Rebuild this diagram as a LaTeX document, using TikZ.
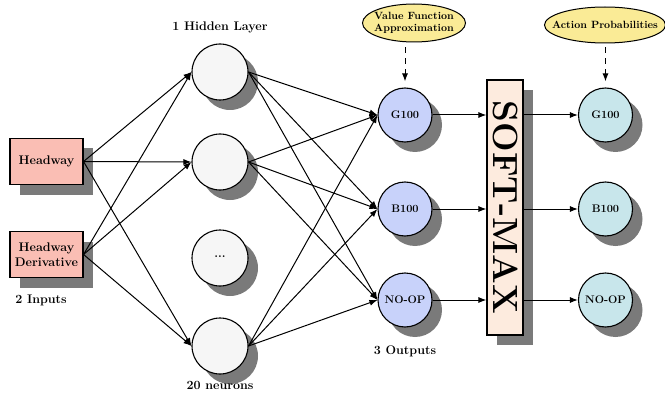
\documentclass[tikz,border=0pt]{standalone}
\usetikzlibrary{shapes.geometric,arrows.meta,shadows}
\definecolor{inpink}{RGB}{250,190,180}
\definecolor{outblue}{RGB}{200,210,250}
\definecolor{probcyan}{RGB}{200,230,235}
\definecolor{smpeach}{RGB}{253,235,222}
\definecolor{elyellow}{RGB}{250,235,150}
\definecolor{hidwhite}{RGB}{246,246,246}
\definecolor{shadgray}{RGB}{122,122,122}
\begin{document}
\begin{tikzpicture}[x=1pt,y=-1pt,
  shad/.style={drop shadow={shadow xshift=10pt,shadow yshift=-10pt,fill=shadgray,opacity=1}},
  inbox/.style={draw,line width=1.1pt,fill=inpink,minimum width=73pt,minimum height=46pt,
    align=center,inner sep=0pt,font=\fontsize{12.5}{15}\selectfont\bfseries,shad},
  hid/.style={circle,draw,line width=1.1pt,fill=hidwhite,minimum size=56pt,inner sep=0pt,shad,
    font=\fontsize{12}{14}\selectfont\bfseries},
  outn/.style={circle,draw,line width=1.1pt,fill=outblue,minimum size=54pt,inner sep=0pt,shad,
    font=\fontsize{11}{13}\selectfont\bfseries},
  probn/.style={circle,draw,line width=1.1pt,fill=probcyan,minimum size=54pt,inner sep=0pt,shad,
    font=\fontsize{11}{13}\selectfont\bfseries},
  smbox/.style={draw,line width=1.1pt,fill=smpeach,minimum width=36pt,minimum height=255pt,inner sep=0pt,shad},
  ell/.style={ellipse,draw,line width=1pt,fill=elyellow,inner sep=0pt},
  ltext/.style={font=\fontsize{10.5}{12.5}\selectfont\bfseries,align=center,inner sep=0pt},
  lbl/.style={font=\fontsize{12.5}{15}\selectfont\bfseries,inner sep=0pt},
  conn/.style={line width=1pt,-{Latex[length=8pt,width=6pt]}},
  dasharrow/.style={line width=1pt,dash pattern=on 6pt off 5pt,-{Latex[length=8pt,width=6pt]}}
]
\useasboundingbox (0,0) rectangle (665,396);

% inputs
\node[inbox] (i1) at (46.5,161.5) {Headway};
\node[inbox] (i2) at (46.5,254.5) {Headway\\Derivative};
\node[lbl] (inlbl) at (41,300) {2 Inputs};

% hidden layer
\node[hid] (h1) at (220,72) {};
\node[hid] (h2) at (220,162) {};
\node[hid] (h3) at (220,258) {\raisebox{2pt}{...}};
\node[hid] (h4) at (220,346) {};
\node[lbl] (hlbl) at (220,27) {1 Hidden Layer};
\node[lbl] (nlbl) at (220,385) {20 neurons};

% outputs
\node[outn] (o1) at (405,115) {G100};
\node[outn] (o2) at (405,209) {B100};
\node[outn] (o3) at (405,300) {NO-OP};
\node[lbl] (olbl) at (405,351) {3 Outputs};

% softmax
\node[smbox] (sm) at (505,207.5) {};
\node[rotate=-90,inner sep=0pt,font=\fontsize{35}{40}\selectfont\bfseries] (smtext) at (505.5,207.5) {SOFT-MAX};

% probabilities
\node[probn] (r1) at (605.5,115) {G100};
\node[probn] (r2) at (605.5,209) {B100};
\node[probn] (r3) at (605.5,300) {NO-OP};

% ellipses
\node[ell,minimum width=103pt,minimum height=38pt] (vf) at (414,23) {};
\node[ltext] (vftext) at (vf) {Value Function\\Approximation};
\node[ell,minimum width=121pt,minimum height=36pt] (ap) at (605,25) {};
\node[ltext] (aptext) at (ap) {Action Probabilities};

\coordinate (vfs) at ([yshift=-5pt]vf.south -| o1);
\coordinate (aps) at ([yshift=-4pt]ap.south -| r1);
\draw[dasharrow] (vfs) -- ([yshift=6pt]o1.north);
\draw[dasharrow] (aps) -- ([yshift=6pt]r1.north);

% input -> hidden
\foreach \i in {i1,i2}{
  \foreach \h in {h1,h2,h4}{
    \draw[conn] (\i.east) -- (\h.west);
  }
}
% hidden -> output
\foreach \h in {h1,h2,h4}{
  \foreach \o in {o1,o2,o3}{
    \draw[conn] (\h.east) -- (\o.west);
  }
}
% output -> softmax -> probs
\draw[conn] (o1.east) -- (o1.east -| sm.west);
\draw[conn] (o2.east) -- (o2.east -| sm.west);
\draw[conn] (o3.east) -- (o3.east -| sm.west);
\draw[conn] (r1.west -| sm.east) -- (r1.west);
\draw[conn] (r2.west -| sm.east) -- (r2.west);
\draw[conn] (r3.west -| sm.east) -- (r3.west);
\end{tikzpicture}
\end{document}
